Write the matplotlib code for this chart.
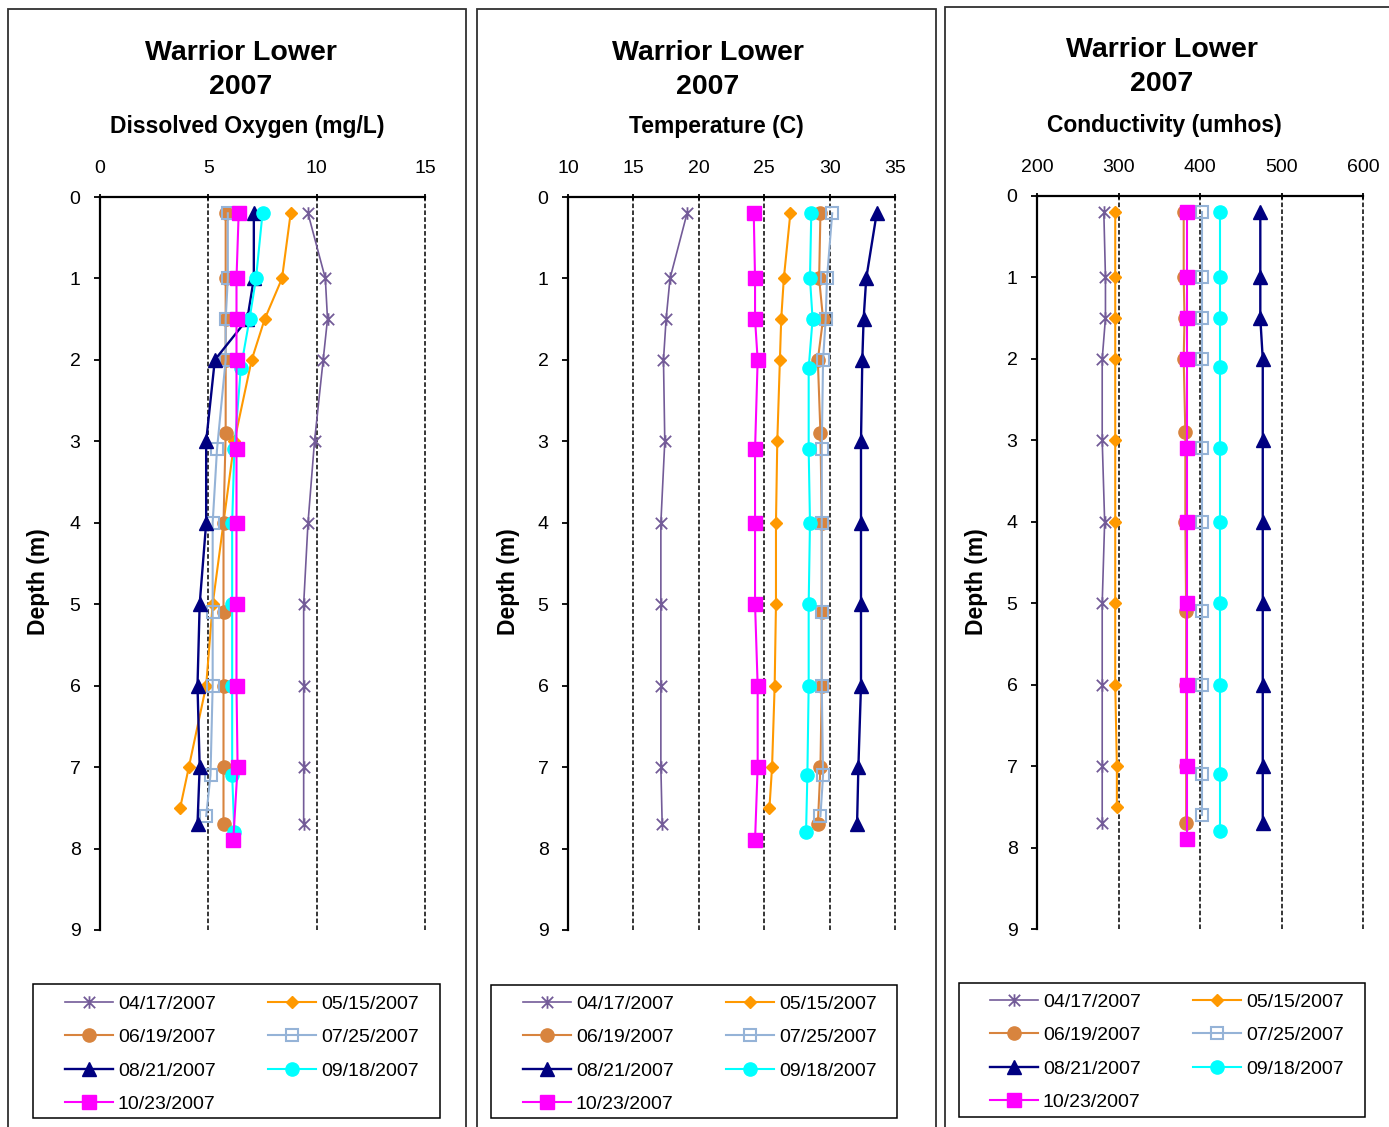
import matplotlib
matplotlib.use('Agg')
import matplotlib.pyplot as plt
from matplotlib.path import Path
from matplotlib.patches import Rectangle

plt.rcParams['font.family'] = ['Liberation Sans', 'DejaVu Sans']

W, H = 1389, 1127

# ---------------- data ----------------
dates = ['04/17/2007', '05/15/2007', '06/19/2007', '07/25/2007',
         '08/21/2007', '09/18/2007', '10/23/2007']

depth_0417 = [0.2, 1, 1.5, 2, 3, 4, 5, 6, 7, 7.7]
depth_0515 = [0.2, 1, 1.5, 2, 3, 4, 5, 6, 7, 7.5]
depth_0619 = [0.2, 1, 1.5, 2, 2.9, 4, 5.1, 6, 7, 7.7]
depth_0725 = [0.2, 1, 1.5, 2, 3.1, 4, 5.1, 6, 7.1, 7.6]
depth_0821 = [0.2, 1, 1.5, 2, 3, 4, 5, 6, 7, 7.7]
depth_0918 = [0.2, 1, 1.5, 2.1, 3.1, 4, 5, 6, 7.1, 7.8]
depth_1023 = [0.2, 1, 1.5, 2, 3.1, 4, 5, 6, 7, 7.9]

do_0417 = [9.6, 10.4, 10.5, 10.3, 9.9, 9.6, 9.4, 9.4, 9.4, 9.4]
do_0515 = [8.8, 8.4, 7.6, 7.0, 6.2, 5.7, 5.2, 4.9, 4.1, 3.7]
do_0619 = [5.8, 5.8, 5.8, 5.8, 5.8, 5.7, 5.7, 5.7, 5.7, 5.7]
do_0725 = [5.9, 5.9, 5.8, 5.8, 5.4, 5.2, 5.2, 5.2, 5.1, 4.9]
do_0821 = [7.1, 7.1, 6.8, 5.3, 4.9, 4.9, 4.6, 4.5, 4.6, 4.5]
do_0918 = [7.5, 7.2, 6.9, 6.5, 6.2, 6.1, 6.1, 6.1, 6.1, 6.2]
do_1023 = [6.4, 6.3, 6.3, 6.3, 6.3, 6.3, 6.3, 6.3, 6.35, 6.15]

temp_0417 = [19.1, 17.8, 17.5, 17.3, 17.4, 17.1, 17.1, 17.1, 17.1, 17.2]
temp_0515 = [27.0, 26.5, 26.3, 26.2, 26.0, 25.9, 25.9, 25.8, 25.6, 25.4]
temp_0619 = [29.3, 29.2, 29.5, 29.1, 29.3, 29.4, 29.4, 29.4, 29.3, 29.1]
temp_0725 = [30.2, 29.8, 29.7, 29.5, 29.4, 29.4, 29.4, 29.4, 29.5, 29.3]
temp_0821 = [33.6, 32.8, 32.6, 32.5, 32.4, 32.4, 32.4, 32.4, 32.2, 32.1]
temp_0918 = [28.6, 28.5, 28.7, 28.4, 28.4, 28.5, 28.4, 28.4, 28.3, 28.2]
temp_1023 = [24.2, 24.3, 24.3, 24.5, 24.3, 24.3, 24.3, 24.5, 24.5, 24.3]

cond_0417 = [282, 284, 284, 280, 280, 283, 280, 280, 280, 280]
cond_0515 = [296, 296, 296, 296, 296, 296, 296, 296, 298, 298]
cond_0619 = [380, 380, 381, 380, 382, 382, 383, 383, 383, 383]
cond_0725 = [402, 402, 402, 402, 402, 402, 402, 402, 402, 402]
cond_0821 = [474, 474, 474, 477, 477, 477, 477, 477, 477, 477]
cond_0918 = [425, 425, 425, 425, 425, 425, 425, 425, 425, 425]
cond_1023 = [384, 384, 384, 384, 384, 384, 384, 384, 384, 384]

depths = [depth_0417, depth_0515, depth_0619, depth_0725,
          depth_0821, depth_0918, depth_1023]
do_vals = [do_0417, do_0515, do_0619, do_0725, do_0821, do_0918, do_1023]
temp_vals = [temp_0417, temp_0515, temp_0619, temp_0725, temp_0821, temp_0918, temp_1023]
cond_vals = [cond_0417, cond_0515, cond_0619, cond_0725, cond_0821, cond_0918, cond_1023]

do_ticks = [0, 5, 10, 15]
temp_ticks = [10, 15, 20, 25, 30, 35]
cond_ticks = [200, 300, 400, 500, 600]
depth_ticks = [0, 1, 2, 3, 4, 5, 6, 7, 8, 9]

# ---------------- styles ----------------
star = Path([(-1, -1), (1, 1), (-1, 1), (1, -1), (0, -1.1), (0, 1.1)],
            [Path.MOVETO, Path.LINETO, Path.MOVETO, Path.LINETO, Path.MOVETO, Path.LINETO])

styles = [
    dict(color='#735B98', marker=star, ms=9, lw=1.2, mew=1.3, mfc='#735B98'),
    dict(color='#FF9900', marker='D', ms=6, lw=1.5, mew=1, mfc='#FF9900'),
    dict(color='#D8843E', marker='o', ms=9.5, lw=1.5, mew=1, mfc='#D8843E'),
    dict(color='#95B3D7', marker='s', ms=8, lw=1.5, mew=1.5, mfc='none'),
    dict(color='#000080', marker='^', ms=9.5, lw=1.7, mew=1, mfc='#000080'),
    dict(color='#00FFFF', marker='o', ms=9.5, lw=1.5, mew=1, mfc='#00FFFF'),
    dict(color='#FF00FF', marker='s', ms=10, lw=1.5, mew=1, mfc='#FF00FF'),
]

fig = plt.figure(figsize=(W / 100, H / 100), dpi=100)


def fx(p):
    return p / W


def fy(p):
    return 1 - p / H


panels = [
    dict(vals=do_vals, ticks=do_ticks, sub='Dissolved Oxygen (mg/L)',
         ax=(100, 425, 197, 930), box=(8, 466, 9), tcx=241, scx=247, ylx=38,
         tb=(60, 94, 133), leg=(33, 440, 984, 1118), hx=65, hy=995),
    dict(vals=temp_vals, ticks=temp_ticks, sub='Temperature (C)',
         ax=(568, 895, 197, 930), box=(477, 936, 9), tcx=708, scx=716, ylx=508,
         tb=(60, 94, 133), leg=(491, 897, 985, 1118), hx=523, hy=995),
    dict(vals=cond_vals, ticks=cond_ticks, sub='Conductivity (umhos)',
         ax=(1037, 1363, 196, 929), box=(945, 1400, 7), tcx=1162, scx=1164, ylx=976,
         tb=(57, 91, 132), leg=(959, 1365, 983, 1117), hx=990, hy=993),
]

for p in panels:
    l, r, t, b = p['ax']
    ax = fig.add_axes([fx(l), fy(b), (r - l) / W, (b - t) / H])
    lines = []
    for d, v, st in zip(depths, p['vals'], styles):
        ln, = ax.plot(v, d, color=st['color'], marker=st['marker'], ms=st['ms'],
                      lw=st['lw'], mew=st['mew'], mfc=st['mfc'], mec=st['color'],
                      clip_on=False)
        lines.append(ln)
    ax.set_xlim(p['ticks'][0], p['ticks'][-1])
    ax.set_ylim(9, 0)
    ax.set_xticks(p['ticks'])
    ax.set_yticks(depth_ticks)
    ax.xaxis.tick_top()
    ax.spines['right'].set_visible(False)
    ax.spines['bottom'].set_visible(False)
    ax.spines['top'].set_linewidth(1.6)
    ax.spines['left'].set_linewidth(1.6)
    ax.grid(axis='x', color='black', linestyle=(0, (3, 1.5)), linewidth=1.1)
    for gl in ax.get_xgridlines():
        gl.set_clip_on(False)
    ax.set_axisbelow(True)
    ax.tick_params(axis='x', direction='inout', length=5, width=1.3, pad=12, labelsize=14)
    ax.tick_params(axis='y', direction='out', length=4, width=1.3, pad=10, labelsize=14)

    # titles
    fig.text(fx(p['tcx']), fy(p['tb'][0]), 'Warrior Lower', ha='center', va='baseline',
             fontsize=20.5, fontweight='bold')
    fig.text(fx(p['tcx']), fy(p['tb'][1]), '2007', ha='center', va='baseline',
             fontsize=20.5, fontweight='bold')
    fig.text(fx(p['scx']), fy(p['tb'][2]), p['sub'], ha='center', va='baseline',
             fontsize=16.5, fontweight='bold')
    fig.text(fx(p['ylx']), fy(582), 'Depth (m)', rotation=90, ha='center', va='center',
             fontsize=16.5, fontweight='bold')

    # panel border
    bx0, bx1, by0 = p['box']
    fig.add_artist(Rectangle((fx(bx0), fy(1150)), (bx1 - bx0) / W, (1150 - by0) / H,
                             transform=fig.transFigure, fill=False,
                             edgecolor='#303030', linewidth=1.3))
    # legend box
    lx0, lx1, ly0, ly1 = p['leg']
    fig.add_artist(Rectangle((fx(lx0), fy(ly1)), (lx1 - lx0) / W, (ly1 - ly0) / H,
                             transform=fig.transFigure, fill=False,
                             edgecolor='black', linewidth=1.1))
    order = [0, 2, 4, 6, 1, 3, 5]
    fig.legend([lines[i] for i in order], [dates[i] for i in order],
               loc='upper left', bbox_to_anchor=(fx(p['hx']), fy(p['hy'])),
               bbox_transform=fig.transFigure, ncol=2, frameon=False,
               borderpad=0, borderaxespad=0, fontsize=14, handlelength=2.47,
               handletextpad=0.25, columnspacing=2.7, labelspacing=0.82,
               numpoints=1)

fig.savefig('out.png', dpi=100)
